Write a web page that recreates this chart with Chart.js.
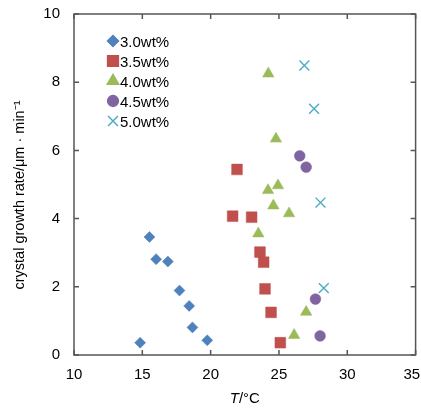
<!DOCTYPE html>
<html>
<head>
<meta charset="utf-8">
<script src="https://cdn.jsdelivr.net/npm/chart.js@4/dist/chart.umd.min.js"></script>
<style>
    html, body { margin: 0; padding: 0; background: #fff; overflow: hidden; }
    #wrap { width: 424px; height: 409px; position: relative; }
</style>
</head>
<body>
<div id="wrap"><canvas id="growthChart"></canvas></div>
<script>
// ----------------------
//  DATA
// ----------------------
const seriesNames = ['3.0wt%', '3.5wt%', '4.0wt%', '4.5wt%', '5.0wt%'];

const temp30 = [14.84, 15.52, 16.01, 16.87, 17.72, 18.43, 18.67, 19.75];
const rate30 = [0.36, 3.46, 2.81, 2.74, 1.89, 1.44, 0.81, 0.43];

const temp35 = [21.93, 21.61, 23.00, 23.61, 23.88, 23.98, 24.42, 25.10];
const rate35 = [5.44, 4.07, 4.04, 3.02, 2.72, 1.94, 1.25, 0.36];

const temp40 = [24.22, 24.78, 24.93, 24.20, 24.59, 25.74, 23.49, 26.99, 26.11];
const rate40 = [8.25, 6.34, 4.97, 4.83, 4.38, 4.15, 3.56, 1.26, 0.58];

const temp45 = [26.52, 26.99, 27.67, 28.01];
const rate45 = [5.84, 5.51, 1.64, 0.56];

const temp50 = [26.86, 27.57, 28.04, 28.28];
const rate50 = [8.49, 7.22, 4.47, 1.96];

const xTickValues = [10, 15, 20, 25, 30, 35];
const yTickValues = [0, 2, 4, 6, 8, 10];

const xTitleItalic = 'T';
const xTitleRest = '/°C';
const yTitle = 'crystal growth rate/μm · min⁻¹';

// ----------------------
//  STYLE
// ----------------------
const FONT = '"Liberation Sans", Arial, sans-serif';
const frameColor = '#555555';
const markers = [
    { color: '#4F81BD', style: 'rectRot', radius: 5.5 },
    { color: '#C0504D', style: 'rect', radius: 7.6 },
    { color: '#9BBB59', style: 'triangle', radius: 6.6 },
    { color: '#8064A2', style: 'circle', radius: 5.4 },
    { color: '#4BACC6', style: 'crossRot', radius: 7 },
];

function toPoints(xs, ys) {
    return xs.map((x, i) => ({ x: x, y: ys[i] }));
}

const allTemps = [temp30, temp35, temp40, temp45, temp50];
const allRates = [rate30, rate35, rate40, rate45, rate50];

const chartData = {
    datasets: seriesNames.map((name, i) => ({
        label: name,
        data: toPoints(allTemps[i], allRates[i]),
        pointStyle: markers[i].style,
        pointRadius: markers[i].radius,
        pointHoverRadius: markers[i].radius,
        backgroundColor: markers[i].color,
        borderColor: markers[i].color,
        borderWidth: markers[i].style === 'crossRot' ? 1.4 : 0.5,
    }))
};

// frame, inward ticks, titles and the in-plot legend
const decorPlugin = {
    id: 'decor',
    afterDraw(chart) {
        const ctx = chart.ctx;
        const a = chart.chartArea;
        const xs = chart.scales.x;
        const ys = chart.scales.y;
        ctx.save();

        // frame
        ctx.strokeStyle = frameColor;
        ctx.lineWidth = 1.5;
        ctx.strokeRect(a.left, a.top, a.right - a.left, a.bottom - a.top);

        // inward tick marks on all sides
        const tl = 5;
        ctx.beginPath();
        xTickValues.forEach(v => {
            const px = xs.getPixelForValue(v);
            ctx.moveTo(px, a.bottom); ctx.lineTo(px, a.bottom - tl);
            ctx.moveTo(px, a.top); ctx.lineTo(px, a.top + tl);
        });
        yTickValues.forEach(v => {
            const py = ys.getPixelForValue(v);
            ctx.moveTo(a.left, py); ctx.lineTo(a.left + tl, py);
            ctx.moveTo(a.right, py); ctx.lineTo(a.right - tl, py);
        });
        ctx.stroke();

        // x title, italic T
        ctx.fillStyle = '#000';
        ctx.textBaseline = 'middle';
        ctx.textAlign = 'left';
        const fItal = 'italic 15px ' + FONT;
        const fNorm = '15px ' + FONT;
        ctx.font = fItal;
        const w1 = ctx.measureText(xTitleItalic).width;
        ctx.font = fNorm;
        const w2 = ctx.measureText(xTitleRest).width;
        const cx = (a.left + a.right) / 2;
        const x0 = cx - (w1 + w2) / 2;
        ctx.font = fItal;
        ctx.fillText(xTitleItalic, x0, 399);
        ctx.font = fNorm;
        ctx.fillText(xTitleRest, x0 + w1, 399);

        // y title
        ctx.save();
        ctx.translate(20, 195);
        ctx.rotate(-Math.PI / 2);
        ctx.textAlign = 'center';
        ctx.font = '14.5px ' + FONT;
        ctx.fillText(yTitle, 0, 0);
        ctx.restore();

        // legend
        const lx = 113, ly = 41, step = 20;
        seriesNames.forEach((name, i) => {
            const m = markers[i];
            const y = ly + i * step;
            ctx.fillStyle = m.color;
            ctx.strokeStyle = m.color;
            Chart.helpers.drawPoint(ctx, {
                pointStyle: m.style,
                radius: m.radius,
                rotation: 0,
                borderWidth: m.style === 'crossRot' ? 1.4 : 0.5
            }, lx, y);
            ctx.fillStyle = '#000';
            ctx.font = '15px ' + FONT;
            ctx.textAlign = 'left';
            ctx.fillText(name, 120, y + 1.5);
        });
        ctx.restore();
    }
};

const options = {
    responsive: true,
    maintainAspectRatio: false,
    animation: false,
    events: [],
    layout: {
        padding: { left: 0, right: 2, top: 14, bottom: 0 }
    },
    plugins: {
        legend: { display: false },
        tooltip: { enabled: false },
    },
    scales: {
        x: {
            type: 'linear',
            min: 10,
            max: 35,
            border: { display: false },
            grid: { display: false, drawTicks: false },
            ticks: {
                stepSize: 5,
                padding: 11,
                color: '#000',
                font: { family: FONT, size: 15 },
                maxRotation: 0,
                // keep the last label inside the window, as in the original
                callback: function (value) {
                    return value === 35 ? value + '\u2002' : String(value);
                }
            },
            afterFit(scale) {
                scale.height = 54;
                scale.paddingLeft = 0;
                scale.paddingRight = 0;
            }
        },
        y: {
            min: 0,
            max: 10,
            border: { display: false },
            grid: { display: false, drawTicks: false },
            ticks: {
                stepSize: 2,
                padding: 14,
                color: '#000',
                font: { family: FONT, size: 15 },
            },
            afterFit(scale) {
                scale.width = 74;
                scale.paddingTop = 0;
                scale.paddingBottom = 0;
            }
        }
    }
};

let ctx = document.getElementById('growthChart').getContext('2d');
let growthChart = new Chart(ctx, {
    type: 'scatter',
    data: chartData,
    options: options,
    plugins: [decorPlugin],
});
</script>
</body>
</html>
